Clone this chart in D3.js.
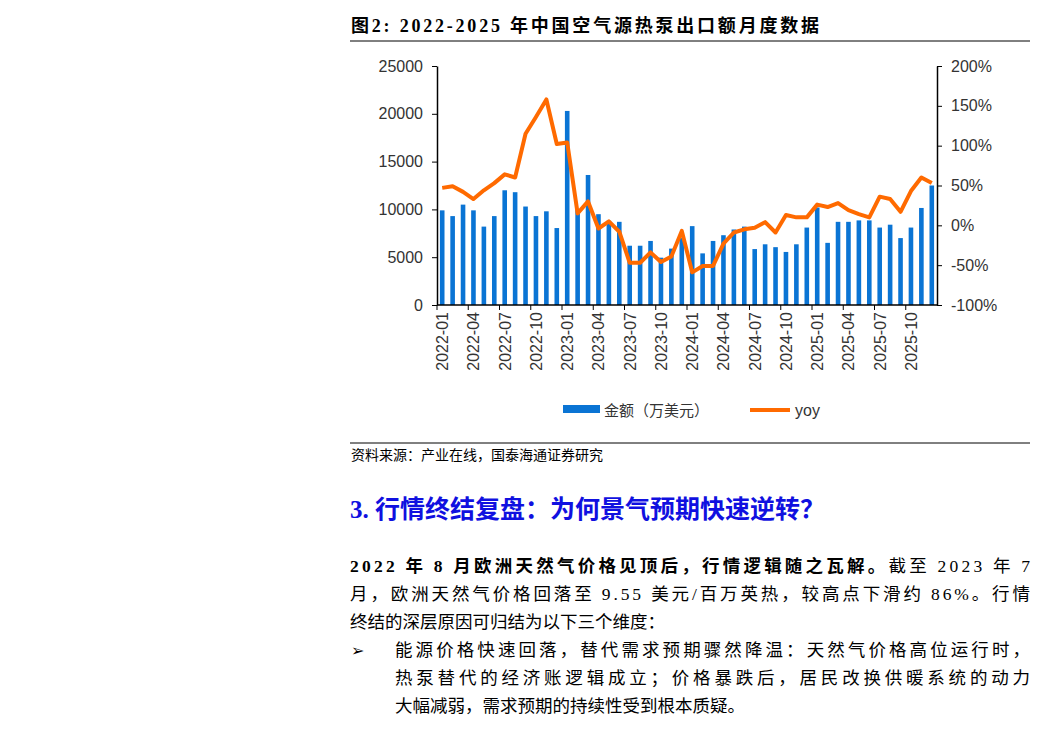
<!DOCTYPE html>
<html><head><meta charset="utf-8">
<script src="https://cdn.jsdelivr.net/npm/d3@7.9.0/dist/d3.min.js"></script>
<style>
body{margin:0;background:#fff;}
</style></head>
<body>
<svg id="c" width="1038" height="729"></svg>
<script>
const months = [];
for (let y = 2022; y <= 2025; y++) for (let m = 1; m <= 12; m++) months.push(y + '-' + String(m).padStart(2, '0'));

const amount = [9900, 9300, 10500, 9900, 8200, 9300, 12000, 11800, 10300, 9300, 9800, 8050,
  20300, 10000, 13600, 9500, 8800, 8700, 6200, 6200, 6700, 4950, 5900, 7000,
  8250, 5400, 6700, 7300, 7900, 8200, 5850, 6350, 6050, 5550, 6350, 8100,
  10200, 6500, 8700, 8700, 8850, 8850, 8100, 8400, 7000, 8100, 10150, 12500];
const yoy = [47, 49, 42, 33, 44, 53, 64, 60, 115, 136, 158, 102,
  104, 15, 30, -4, 5, -8, -47, -47, -34, -46, -39, -7,
  -59, -51, -51, -23, -9, -5, -3, 4, -9, 13, 10, 10,
  26, 23, 28, 19, 14, 10, 36, 33, 17, 43, 60, 53];
const leftTicks = [0, 5000, 10000, 15000, 20000, 25000];
const rightTicks = [-100, -50, 0, 50, 100, 150, 200];

const svg = d3.select('#c');
const font = 'Liberation Sans, Arial, sans-serif';
const cn = '"Liberation Serif","Noto Sans CJK SC",serif';

// title
svg.append('text').attr('x', 351).attr('y', 32).attr('font-family', cn).attr('font-weight', 'bold')
  .attr('font-size', 18).attr('textLength', 468).attr('lengthAdjust', 'spacing')
  .text('图2:  2022-2025 年中国空气源热泵出口额月度数据');
svg.append('line').attr('x1', 350).attr('x2', 1030).attr('y1', 41).attr('y2', 41).attr('stroke', '#000').attr('stroke-width', 1);

const L = 437, R = 937, T = 66, B = 305;
const x = d3.scaleBand().domain(months).range([L, R]);
const yL = d3.scaleLinear().domain([0, 25000]).range([B, T]);
const yR = d3.scaleLinear().domain([-100, 200]).range([B, T]);

svg.append('g').selectAll('rect').data(months).join('rect')
  .attr('x', (d, i) => x(d) + x.bandwidth() / 2 - 2.3)
  .attr('width', 4.6)
  .attr('y', (d, i) => yL(amount[i]))
  .attr('height', (d, i) => B - yL(amount[i]))
  .attr('fill', '#0a74d4');

const line = d3.line().x((d, i) => x(months[i]) + x.bandwidth() / 2).y(d => yR(d));
svg.append('path').datum(yoy).attr('d', line).attr('fill', 'none')
  .attr('stroke', '#ff6a00').attr('stroke-width', 4).attr('stroke-linejoin', 'round');

// axes
const ga = svg.append('g').attr('transform', `translate(${L},0)`)
  .call(d3.axisLeft(yL).tickValues(leftTicks).tickSize(5).tickSizeOuter(0).tickFormat(d => String(d)));
const gr = svg.append('g').attr('transform', `translate(${R},0)`)
  .call(d3.axisRight(yR).tickValues(rightTicks).tickSize(5).tickSizeOuter(0).tickFormat(d => d + '%'));
[ga, gr].forEach(g => {
  g.selectAll('text').attr('font-family', font).attr('font-size', 16).attr('fill', '#333');
  g.select('.domain').attr('stroke', '#000').attr('stroke-width', 1.5);
});
ga.selectAll('text').attr('x', -14);
gr.selectAll('text').attr('x', 14);

svg.append('line').attr('x1', L).attr('x2', R).attr('y1', B).attr('y2', B).attr('stroke', '#000').attr('stroke-width', 1.5);
const tickM = months.filter((d, i) => i % 3 === 0);
svg.append('g').selectAll('line').data(tickM).join('line')
  .attr('x1', d => x(d)).attr('x2', d => x(d)).attr('y1', B).attr('y2', B + 5).attr('stroke', '#000');
svg.append('g').selectAll('text').data(tickM).join('text')
  .attr('transform', d => `translate(${x(d) + x.bandwidth() / 2 + 6},${B + 7}) rotate(-90)`)
  .attr('text-anchor', 'end').attr('font-family', font).attr('font-size', 16).attr('fill', '#333').text(d => d);

// legend
svg.append('rect').attr('x', 563).attr('y', 405).attr('width', 37).attr('height', 8).attr('fill', '#0a74d4');
svg.append('text').attr('x', 604).attr('y', 416).attr('font-family', cn).attr('font-size', 15).attr('fill', '#333').text('金额（万美元）');
svg.append('line').attr('x1', 750).attr('x2', 790).attr('y1', 410).attr('y2', 410).attr('stroke', '#ff6a00').attr('stroke-width', 4);
svg.append('text').attr('x', 795).attr('y', 416).attr('font-family', font).attr('font-size', 16).attr('fill', '#333').text('yoy');

svg.append('line').attr('x1', 350).attr('x2', 1030).attr('y1', 443).attr('y2', 443).attr('stroke', '#000');
svg.append('text').attr('x', 351).attr('y', 460).attr('font-family', cn).attr('font-size', 14).text('资料来源：产业在线，国泰海通证券研究');

svg.append('text').attr('x', 350).attr('y', 518).attr('font-family', cn).attr('font-size', 25).attr('fill', '#1010e0')
  .attr('font-weight', 'bold').text('3.  行情终结复盘：为何景气预期快速逆转？');

const para = [
  [350, 572, 680, [['2022 年 8 月欧洲天然气价格见顶后，行情逻辑随之瓦解。', true], ['截至 2023 年 7', false]]],
  [350, 600, 680, [['月，欧洲天然气价格回落至 9.55 美元/百万英热，较高点下滑约 86%。行情', false]]],
  [350, 628, 0, [['终结的深层原因可归结为以下三个维度：', false]]],
  [395, 656, 635, [['能源价格快速回落，替代需求预期骤然降温：天然气价格高位运行时，', false]]],
  [395, 684, 635, [['热泵替代的经济账逻辑成立；价格暴跌后，居民改换供暖系统的动力', false]]],
  [395, 712, 0, [['大幅减弱，需求预期的持续性受到根本质疑。', false]]]
];
para.forEach(([px, py, len, segs]) => {
  const t = svg.append('text').attr('x', px).attr('y', py).attr('font-family', cn).attr('font-size', 17.5);
  if (len) t.attr('textLength', len).attr('lengthAdjust', 'spacing');
  segs.forEach(([s, b]) => t.append('tspan').attr('font-weight', b ? 'bold' : 'normal').text(s));
});
svg.append('text').attr('x', 351).attr('y', 656).attr('font-family', font).attr('font-size', 16).text('➢');
</script>
</body></html>
